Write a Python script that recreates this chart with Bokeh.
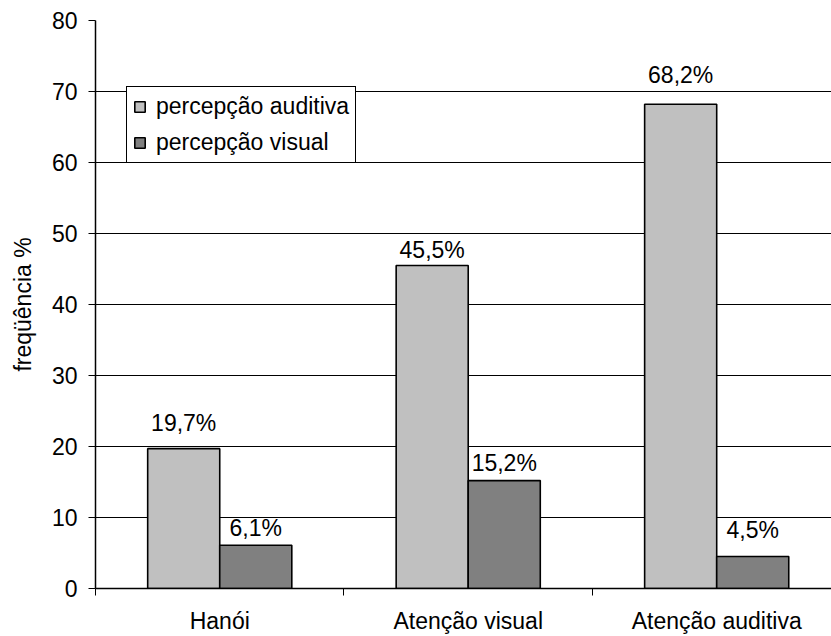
from bokeh.plotting import figure
from bokeh.models import (Range1d, FixedTicker, ColumnDataSource, LabelSet,
                          Legend, LegendItem)
from bokeh.core.properties import value
from bokeh.embed import file_html
from bokeh.resources import INLINE
import numpy as np

categories = ["Hanói", "Atenção visual", "Atenção auditiva"]
auditiva = [19.7, 45.5, 68.2]
visual = [6.1, 15.2, 4.5]
series_names = ["percepção auditiva", "percepção visual"]
y_ticks = [0, 10, 20, 30, 40, 50, 60, 70, 80]

FONT = "Liberation Sans"
SIZE = "23px"
BAR_W = 0.29

centers = np.arange(len(categories)) + 0.5


def pct(v):
    return f"{v:.1f}%".replace(".", ",")


p = figure(width=831, height=636, output_backend="svg", toolbar_location=None,
           x_range=Range1d(0, 2.962), y_range=Range1d(0, 80),
           min_border_left=95, min_border_right=0, min_border_top=20,
           min_border_bottom=48)
p.outline_line_color = None
p.background_fill_color = "white"
p.border_fill_color = "white"

# label lift above each bar top, in screen pixels
aud_src = ColumnDataSource(dict(x=centers - BAR_W / 2, top=auditiva,
                                label=[pct(v) for v in auditiva],
                                lift=[18, 7, 21]))
vis_src = ColumnDataSource(dict(x=centers + BAR_W / 2, top=visual,
                                label=[pct(v) for v in visual],
                                lift=[9, 10, 19]))

r_aud = p.vbar(x="x", top="top", width=BAR_W, source=aud_src,
               fill_color="#C0C0C0", line_color="black", line_width=1.6)
r_vis = p.vbar(x="x", top="top", width=BAR_W, source=vis_src,
               fill_color="#808080", line_color="black", line_width=1.6)

for src in (aud_src, vis_src):
    p.add_layout(LabelSet(x="x", y="top", text="label", source=src,
                          y_offset="lift", text_align="center",
                          text_baseline="alphabetic", text_font=value(FONT),
                          text_font_size=value(SIZE), text_color="black"))

# grid
p.xgrid.grid_line_color = None
p.ygrid.ticker = FixedTicker(ticks=y_ticks)
p.ygrid.grid_line_color = "black"
p.ygrid.grid_line_width = 1

# y axis
p.yaxis.ticker = FixedTicker(ticks=y_ticks)
p.yaxis.axis_label = "freqüência %"
p.yaxis.axis_label_text_font = FONT
p.yaxis.axis_label_text_font_size = "23px"
p.yaxis.axis_label_text_font_style = "normal"
p.yaxis.axis_label_text_color = "black"
p.yaxis.axis_label_standoff = 13
p.yaxis.major_label_text_font = FONT
p.yaxis.major_label_text_font_size = SIZE
p.yaxis.major_label_text_color = "black"
p.yaxis.major_tick_out = 7
p.yaxis.major_tick_in = 0
p.yaxis.minor_tick_line_color = None
p.yaxis.major_label_standoff = 11
p.yaxis.axis_line_width = 1.5
p.yaxis.axis_line_color = "black"
p.yaxis.major_tick_line_color = "black"

# x axis: labels at category centres, tick marks at category boundaries
p.xaxis.ticker = FixedTicker(ticks=list(centers),
                             minor_ticks=list(range(len(categories) + 1)))
p.xaxis.major_label_overrides = {float(c): name for c, name in zip(centers, categories)}
p.xaxis.major_tick_out = 0
p.xaxis.major_tick_in = 0
p.xaxis.minor_tick_out = 7
p.xaxis.minor_tick_in = 0
p.xaxis.minor_tick_line_color = "black"
p.xaxis.major_label_text_font = FONT
p.xaxis.major_label_text_font_size = SIZE
p.xaxis.major_label_text_color = "black"
p.xaxis.major_label_standoff = 12
p.xaxis.axis_line_width = 1.5
p.xaxis.axis_line_color = "black"

legend = Legend(items=[LegendItem(label=series_names[0], renderers=[r_aud]),
                       LegendItem(label=series_names[1], renderers=[r_vis])],
                location=(31, 425))
legend.label_text_font = FONT
legend.label_text_font_size = SIZE
legend.label_text_color = "black"
legend.glyph_width = 13
legend.glyph_height = 13
legend.label_standoff = 10
legend.spacing = 9
legend.padding = 6
legend.margin = 0
legend.border_line_color = "black"
legend.border_line_alpha = 1
legend.border_line_width = 1
legend.background_fill_color = "white"
legend.background_fill_alpha = 1
p.add_layout(legend, "center")

open("out.html", "w").write(file_html(p, INLINE))
